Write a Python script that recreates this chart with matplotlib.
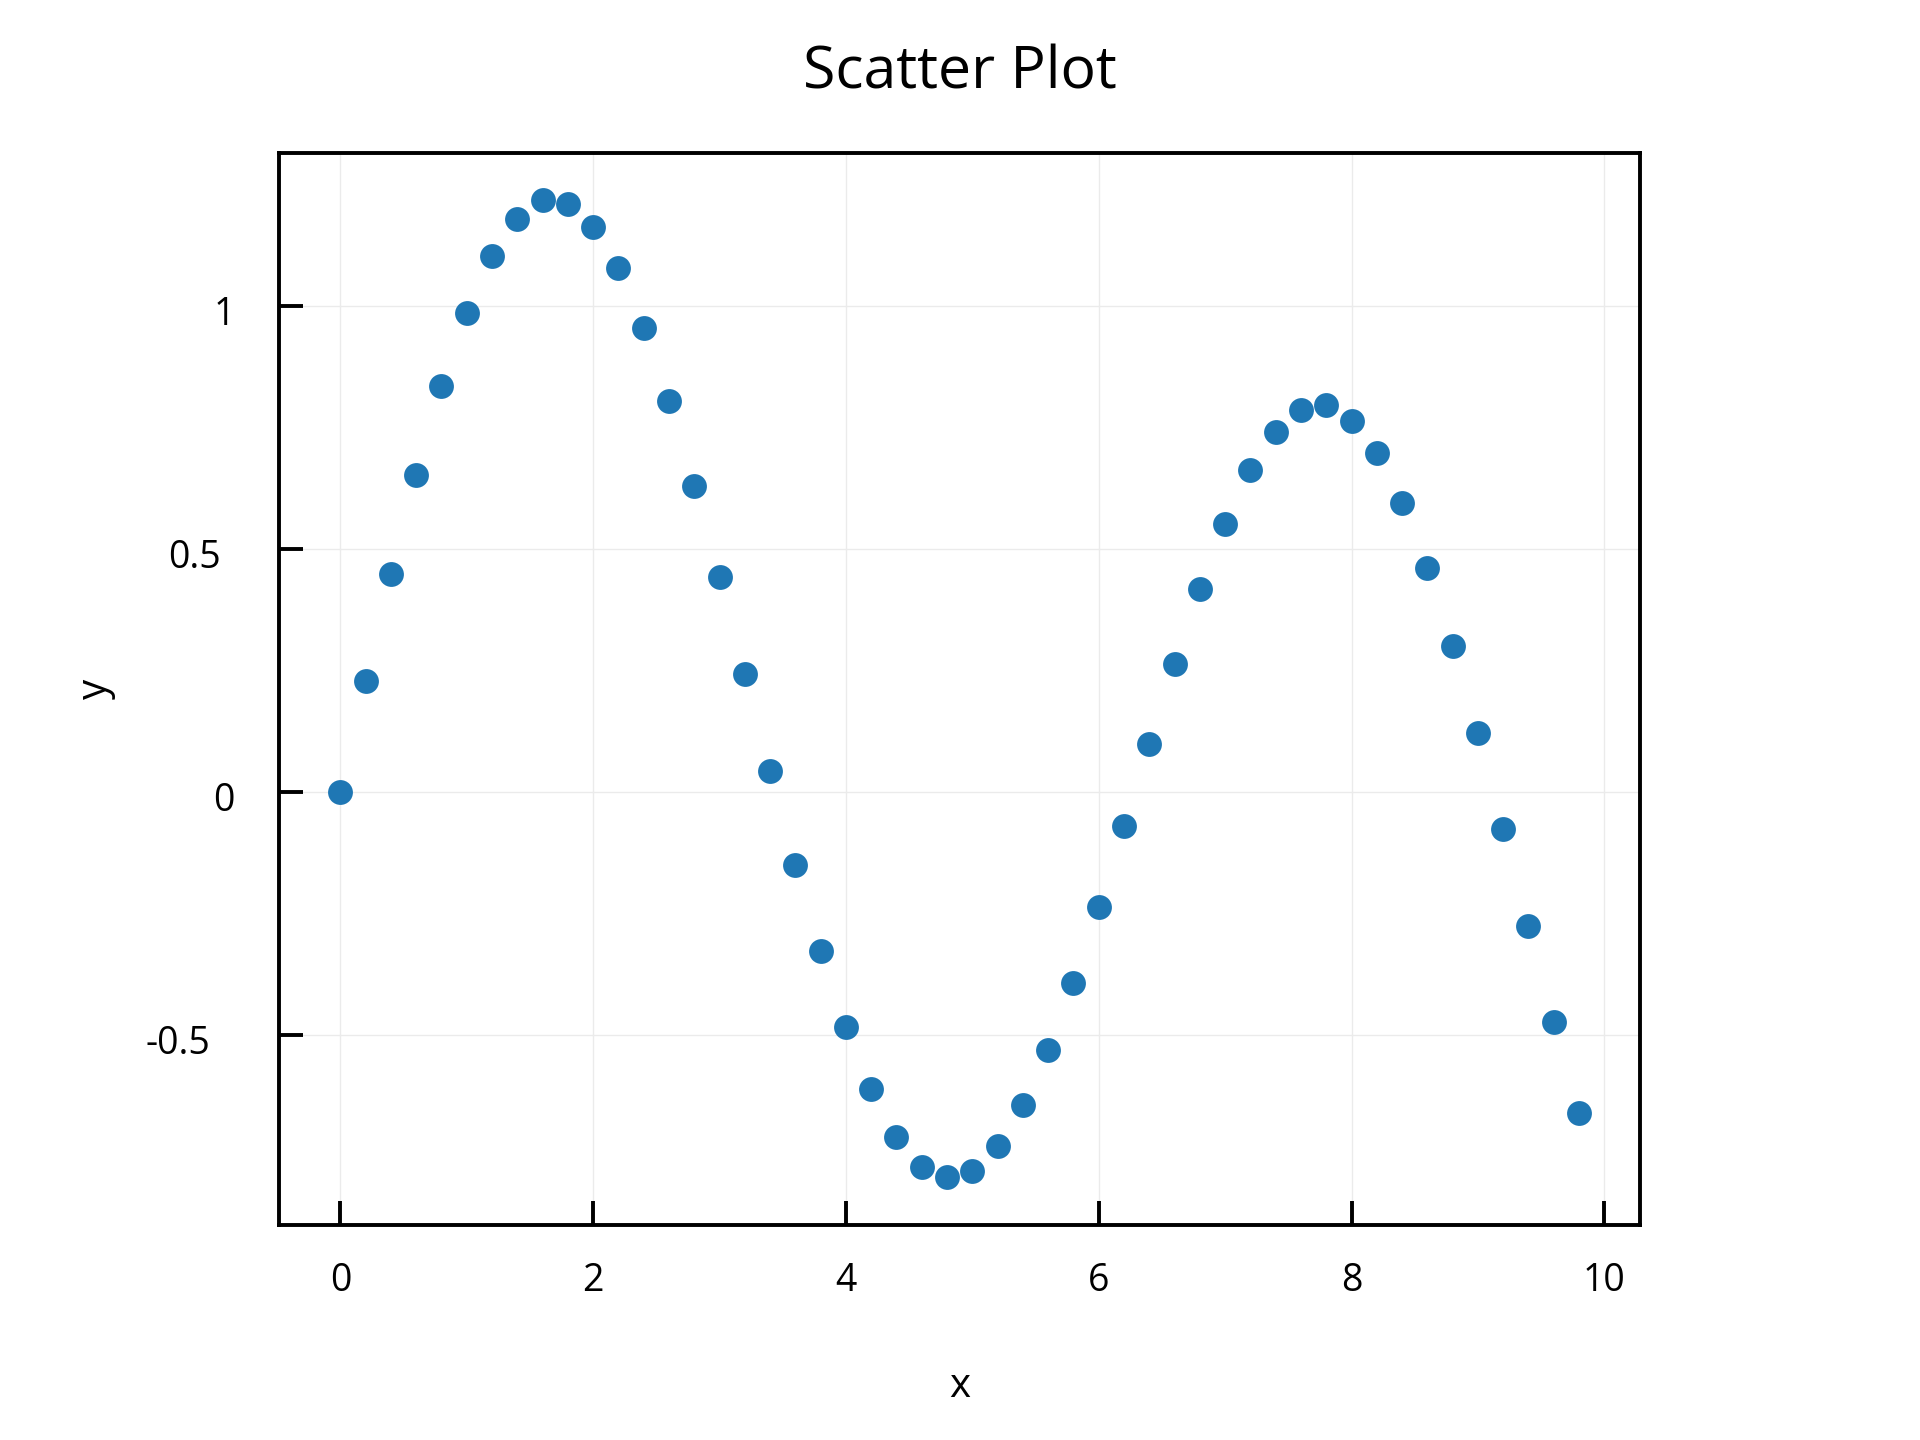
import numpy as np
import matplotlib
matplotlib.use("Agg")
import matplotlib.pyplot as plt
from matplotlib.transforms import ScaledTranslation

plt.rcParams['font.family'] = ['Open Sans', 'DejaVu Sans']

# values
x = [0.0, 0.2, 0.4, 0.6, 0.8, 1.0, 1.2, 1.4, 1.6, 1.8,
     2.0, 2.2, 2.4, 2.6, 2.8, 3.0, 3.2, 3.4, 3.6, 3.8,
     4.0, 4.2, 4.4, 4.6, 4.8, 5.0, 5.2, 5.4, 5.6, 5.8,
     6.0, 6.2, 6.4, 6.6, 6.8, 7.0, 7.2, 7.4, 7.6, 7.8,
     8.0, 8.2, 8.4, 8.6, 8.8, 9.0, 9.2, 9.4, 9.6, 9.8]
y = [0.000, 0.229, 0.448, 0.652, 0.834, 0.985, 1.103, 1.179, 1.217, 1.209,
     1.161, 1.078, 0.955, 0.804, 0.630, 0.441, 0.242, 0.043, -0.151, -0.327,
     -0.484, -0.612, -0.710, -0.771, -0.793, -0.781, -0.728, -0.645, -0.531, -0.393,
     -0.237, -0.071, 0.098, 0.264, 0.418, 0.552, 0.662, 0.741, 0.786, 0.796,
     0.763, 0.698, 0.594, 0.461, 0.300, 0.121, -0.076, -0.275, -0.474, -0.660]

xticks = [0, 2, 4, 6, 8, 10]
yticks = [-0.5, 0, 0.5, 1]
yticklabels = ['-0.5', '0', '0.5', '1']

fig = plt.figure(figsize=(9.6, 7.2), dpi=200)
ax = fig.add_axes([0.1454, 0.149, 0.7086, 0.745])

ax.scatter(x, y, s=80, color='#1f77b4', zorder=3, linewidths=0)

ax.set_xlim(-0.484, 10.28)
ax.set_ylim(-0.892, 1.315)
ax.set_xticks(xticks)
ax.set_xticklabels([str(t) for t in xticks])
ax.set_yticks(yticks)
ax.set_yticklabels(yticklabels)

ax.grid(True, color='#ebebeb', linewidth=0.5)
ax.set_axisbelow(True)
for s in ax.spines.values():
    s.set_linewidth(1.4)
ax.tick_params(direction='in', length=8.6, width=1.4, labelsize=13.5)
ax.tick_params(axis='x', pad=13)
ax.tick_params(axis='y', pad=16)

# the y labels sit a little lower, decimals a bit further left in the reference
shift = {'0.5': -0.07, '-0.5': -0.12}
for tick, lab in zip(ax.yaxis.get_major_ticks(), yticklabels):
    tick.label1.set_transform(tick.label1.get_transform()
                              + ScaledTranslation(shift.get(lab, 0), -0.022,
                                                  fig.dpi_scale_trans))

ax.set_title('Scatter Plot', fontsize=21.2, pad=23)
ax.set_xlabel('x', fontsize=14.5, va='center')
ax.xaxis.set_label_coords(0.5, -0.1505)
ax.set_ylabel('y', fontsize=14.5, va='center')
ax.yaxis.set_label_coords(-0.135, 0.5)

fig.savefig('out.png', dpi=200)
